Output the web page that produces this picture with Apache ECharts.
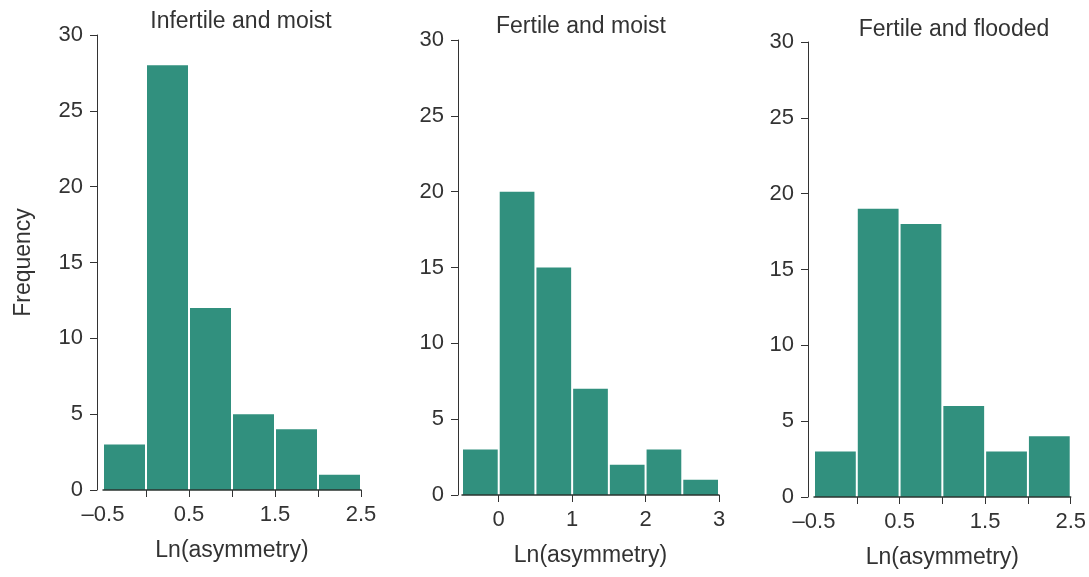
<!DOCTYPE html>
<html>
<head>
<meta charset="utf-8">
<script src="https://cdn.jsdelivr.net/npm/echarts@6/dist/echarts.min.js"></script>
<style>
html,body{margin:0;padding:0;background:#fff;}
#chart{width:1089px;height:577px;}
</style>
</head>
<body>
<div id="chart"></div>
<script>
// ---- data ----
const titles = ['Infertile and moist', 'Fertile and moist', 'Fertile and flooded'];
const binEdges1 = [-0.5, 0, 0.5, 1, 1.5, 2, 2.5];
const freq1 = [3, 28, 12, 5, 4, 1];
const binEdges2 = [-0.5, 0, 0.5, 1, 1.5, 2, 2.5, 3];
const freq2 = [3, 20, 15, 7, 2, 3, 1];
const binEdges3 = [-0.5, 0, 0.5, 1, 1.5, 2, 2.5];
const freq3 = [3, 19, 18, 6, 3, 4];
const xTicks1 = [0, 0.5, 1, 1.5, 2, 2.5];
const xLabels1 = [-0.5, 0.5, 1.5, 2.5];
const xTicks2 = [0, 1, 2, 3];
const xLabels2 = [0, 1, 2, 3];
const xTicks3 = [0, 0.5, 1, 1.5, 2, 2.5];
const xLabels3 = [-0.5, 0.5, 1.5, 2.5];
const yTicks = [0, 5, 10, 15, 20, 25, 30];
const xAxisName = 'Ln(asymmetry)';
const yAxisName = 'Frequency';

// ---- styling / layout ----
const FONT = '"Liberation Sans", Arial, Helvetica, sans-serif';
const TXT = '#333';
const BAR = '#31907e';
const panels = [
  {edges: binEdges1, freq: freq1, ticks: xTicks1, labels: xLabels1, grid: {left: 103, width: 258, top: 35, height: 455}, yOff: 6, title: [241, 22]},
  {edges: binEdges2, freq: freq2, ticks: xTicks2, labels: xLabels2, grid: {left: 462, width: 257, top: 40, height: 455}, yOff: 4, title: [581, 27]},
  {edges: binEdges3, freq: freq3, ticks: xTicks3, labels: xLabels3, grid: {left: 814, width: 258, top: 42, height: 455}, yOff: 6, title: [954, 30]}
];

function fmt(v) {
  const s = String(v);
  return s.charAt(0) === '-' ? '\u2013' + s.slice(1) : s;
}

const option = {
  animation: false,
  backgroundColor: '#fff',
  textStyle: {fontFamily: FONT},
  grid: panels.map(p => p.grid),
  xAxis: panels.map((p, i) => ({
    type: 'value', gridIndex: i,
    min: p.edges[0], max: p.edges[p.edges.length - 1], interval: 0.5,
    z: 5,
    name: xAxisName, nameLocation: 'middle', nameGap: 49,
    nameTextStyle: {fontSize: 23, color: TXT, fontFamily: FONT},
    axisLine: {show: true, onZero: false, lineStyle: {color: '#2b3531', width: 1.5}},
    axisTick: {show: true, length: 7, inside: false, customValues: p.ticks, lineStyle: {color: '#333', width: 1}},
    axisLabel: {show: true, customValues: p.labels, margin: 14, fontSize: 22, color: TXT, fontFamily: FONT, formatter: fmt, showMinLabel: true, showMaxLabel: true},
    splitLine: {show: false}
  })),
  yAxis: panels.map((p, i) => ({
    type: 'value', gridIndex: i, min: 0, max: 30, interval: 5,
    offset: p.yOff,
    name: i === 0 ? yAxisName : '', nameLocation: 'middle', nameGap: 62, nameRotate: 90,
    nameTextStyle: {fontSize: 23, color: TXT, fontFamily: FONT},
    axisLine: {show: true, onZero: false, lineStyle: {color: '#333', width: 1}},
    axisTick: {show: true, length: 7, customValues: yTicks, lineStyle: {color: '#333', width: 1}},
    axisLabel: {customValues: yTicks, margin: 14, fontSize: 22, color: TXT, fontFamily: FONT},
    splitLine: {show: false}
  })),
  graphic: panels.map((p, i) => ({
    type: 'text', x: p.title[0], y: p.title[1],
    style: {text: titles[i], font: '23px ' + FONT, fill: TXT, textAlign: 'center', textVerticalAlign: 'middle'}
  })),
  series: panels.map((p, i) => ({
    type: 'custom', xAxisIndex: i, yAxisIndex: i,
    data: p.freq.map((f, k) => [p.edges[k], p.edges[k + 1], f]),
    encode: {x: [0, 1], y: 2},
    renderItem: function (params, api) {
      const a = api.coord([api.value(0), api.value(2)]);
      const b = api.coord([api.value(1), 0]);
      return {
        type: 'rect',
        shape: {x: a[0] + 1, y: a[1], width: b[0] - a[0] - 2, height: b[1] - a[1]},
        style: {fill: BAR}
      };
    }
  }))
};

const chart = echarts.init(document.getElementById('chart'), null, {renderer: 'canvas'});
chart.setOption(option);
</script>
</body>
</html>
